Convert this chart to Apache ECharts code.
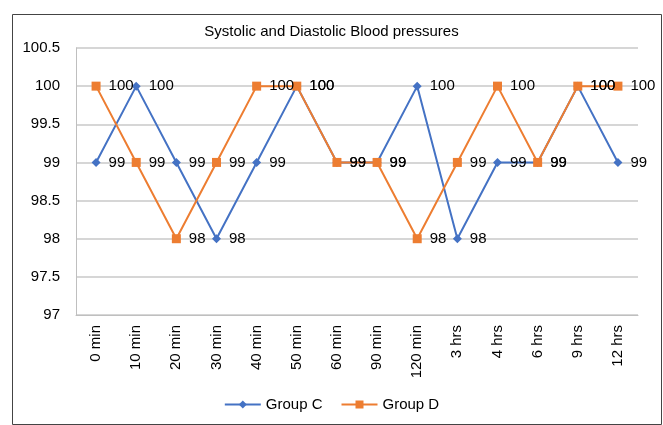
<!DOCTYPE html>
<html>
<head>
<meta charset="utf-8">
<script src="https://cdn.jsdelivr.net/npm/echarts@6/dist/echarts.min.js"></script>
<style>
  html, body { margin: 0; padding: 0; background: #fff; }
  #chart { width: 663px; height: 425px; }
</style>
</head>
<body>
<div id="chart"></div>
<script>
var categories = ['0 min', '10 min', '20 min', '30 min', '40 min', '50 min', '60 min',
  '90 min', '120 min', '3 hrs', '4 hrs', '6 hrs', '9 hrs', '12 hrs'];
var groupC = [99, 100, 99, 98, 99, 100, 99, 99, 100, 98, 99, 99, 100, 99];
var groupD = [100, 99, 98, 99, 100, 100, 99, 99, 98, 99, 100, 99, 100, 100];

var font = 'Liberation Sans, Arial, sans-serif';

var myChart = echarts.init(document.getElementById('chart'));

function lineSeries(name, data, color, symbol, size) {
  return {
    name: name,
    type: 'line',
    data: data,
    symbol: symbol,
    symbolSize: size,
    showAllSymbol: true,
    itemStyle: { color: color },
    lineStyle: { color: color, width: 2 },
    label: {
      show: true,
      position: 'right',
      distance: 8,
      color: '#000',
      fontSize: 15,
      fontFamily: font
    },
    emphasis: { disabled: true }
  };
}

myChart.setOption({
  animation: false,
  title: {
    text: 'Systolic and Diastolic Blood pressures',
    left: 'center',
    top: 19,
    textStyle: { fontSize: 15, fontWeight: 'normal', color: '#000', fontFamily: font }
  },
  graphic: [{
    type: 'rect',
    shape: { x: 12.5, y: 14.5, width: 649, height: 410 },
    style: { fill: 'none', stroke: '#444', lineWidth: 1 },
    silent: true
  }],
  grid: { left: 76, right: 25, top: 48, bottom: 110 },
  legend: {
    bottom: 8,
    left: 'center',
    itemWidth: 36,
    itemHeight: 10,
    itemGap: 18,
    textStyle: { fontSize: 15, color: '#000', fontFamily: font },
    data: ['Group C', 'Group D']
  },
  xAxis: {
    type: 'category',
    data: categories,
    boundaryGap: true,
    axisLine: { lineStyle: { color: '#bfbfbf' } },
    axisTick: { show: false },
    axisLabel: { rotate: 90, color: '#000', fontSize: 15, fontFamily: font, margin: 10 }
  },
  yAxis: {
    type: 'value',
    min: 97,
    max: 100.5,
    interval: 0.5,
    axisLine: { show: true, lineStyle: { color: '#bfbfbf' } },
    axisTick: { show: false },
    splitLine: { lineStyle: { color: '#c8c8c8', width: 1.5 } },
    axisLabel: { color: '#000', fontSize: 15, fontFamily: font, margin: 16 }
  },
  series: [
    lineSeries('Group C', groupC, '#4472C4', 'diamond', 9),
    lineSeries('Group D', groupD, '#ED7D31', 'rect', 9)
  ]
});
</script>
</body>
</html>
